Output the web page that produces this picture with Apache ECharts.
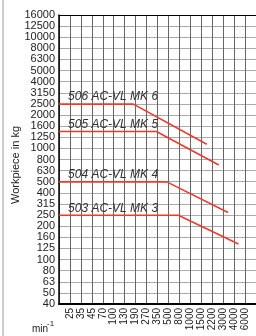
<!DOCTYPE html>
<html>
<head>
<meta charset="utf-8">
<script src="https://cdn.jsdelivr.net/npm/echarts@6/dist/echarts.min.js"></script>
<style>
  html, body { margin: 0; padding: 0; background: #fff; }
  #chart { width: 256px; height: 336px; }
</style>
</head>
<body>
<div id="chart"></div>
<script>
// speed column labels (first column is the axis itself)
const speedLabels = ['', '25', '35', '45', '70', '100', '130', '190', '270', '350', '500', '800', '1000', '1500', '2200', '3000', '4000', '6000']
const weightLabels = [40, 50, 63, 80, 100, 125, 160, 200, 250, 315, 400, 500, 630, 800, 1000, 1250, 1600, 2000, 2500, 3150, 4000, 5000, 6300, 8000, 10000, 12500, 16000]

// machine curves: position on the speed scale, workpiece weight in kg
const mk6Speed = [0, 6.8, 13.5]
const mk6Load = [2500, 2500, 1090]
const mk5Speed = [0, 8.9, 14.6]
const mk5Load = [1420, 1420, 710]
const mk4Speed = [0, 9.85, 15.45]
const mk4Load = [500, 500, 265]
const mk3Speed = [0, 10.9, 16.4]
const mk3Load = [250, 250, 138]

const names = ['506 AC-VL MK 6', '505 AC-VL MK 5', '504 AC-VL MK 4', '503 AC-VL MK 3']
const speeds = [mk6Speed, mk5Speed, mk4Speed, mk3Speed]
const loads = [mk6Load, mk5Load, mk4Load, mk3Load]

const font = 'Liberation Sans, Arial, sans-serif'

const nearestWeight = (v) => {
  let best = weightLabels[0]
  weightLabels.forEach((w) => {
    if (Math.abs(Math.log(w / v)) < Math.abs(Math.log(best / v))) best = w
  })
  return String(best)
}

const series = names.map((name, i) => ({
  name,
  type: 'line',
  clip: false,
  symbol: 'circle',
  symbolSize: 0.1,
  showSymbol: true,
  itemStyle: { color: 'transparent' },
  lineStyle: { color: '#ee3a2c', width: 1.6 },
  silent: true,
  data: speeds[i].map((s, j) => {
    const item = { value: [s, loads[i][j]] }
    if (j === 0) {
      item.label = {
        show: true,
        position: 'right',
        distance: 9,
        offset: [0, -7],
        formatter: name,
        fontFamily: font,
        fontSize: 12,
        fontStyle: 'italic',
        color: '#333',
      }
    }
    return item
  }),
}))

const chart = echarts.init(document.getElementById('chart'))
chart.setOption({
  animation: false,
  backgroundColor: '#fff',
  grid: { left: 59, right: -5, top: 15, bottom: 32 },
  xAxis: [
    {
      type: 'value',
      min: 0,
      max: 18,
      interval: 1,
      axisLine: { show: true, onZero: false, lineStyle: { color: '#000', width: 2 } },
      axisTick: { show: false },
      axisLabel: {
        rotate: 90,
        margin: 4,
        fontFamily: 'Liberation Sans Narrow, Liberation Sans, Arial, sans-serif',
        fontSize: 10,
        color: '#222',
        formatter: (v) => speedLabels[v] || '',
      },
      splitLine: { show: true, lineStyle: { color: '#666', width: 1 } },
    },
    {
      type: 'value',
      position: 'top',
      min: 0,
      max: 18,
      axisLine: { show: true, onZero: false, lineStyle: { color: '#000', width: 1 } },
      axisTick: { show: false },
      axisLabel: { show: false },
      splitLine: { show: false },
    },
  ],
  yAxis: {
    type: 'log',
    logBase: Math.pow(10, 0.1),
    min: 39.82,
    max: 15848,
    interval: 1,
    splitNumber: 26,
    axisLine: { show: true, onZero: false, lineStyle: { color: '#000', width: 1.5 } },
    axisTick: { show: false },
    axisLabel: {
      margin: 4,
      fontFamily: font,
      fontSize: 11,
      color: '#222',
      formatter: nearestWeight,
    },
    splitLine: { show: true, lineStyle: { color: '#aaa', width: 1 } },
  },
  graphic: [
    {
      type: 'line',
      shape: { x1: 3, y1: 0, x2: 3, y2: 336 },
      style: { stroke: '#999', lineWidth: 1 },
    },
    {
      type: 'text',
      x: 15.5,
      y: 165,
      rotation: Math.PI / 2,
      style: {
        text: 'Workpiece in kg',
        fontFamily: font,
        fontSize: 11,
        fill: '#222',
        align: 'center',
        verticalAlign: 'middle',
      },
    },
    {
      type: 'text',
      left: 32,
      top: 324,
      style: { text: 'min', fontFamily: font, fontSize: 10, fill: '#222' },
    },
    {
      type: 'text',
      left: 47,
      top: 320,
      style: { text: '-1', fontFamily: font, fontSize: 8, fill: '#222' },
    },
  ],
  series,
})
</script>
</body>
</html>
